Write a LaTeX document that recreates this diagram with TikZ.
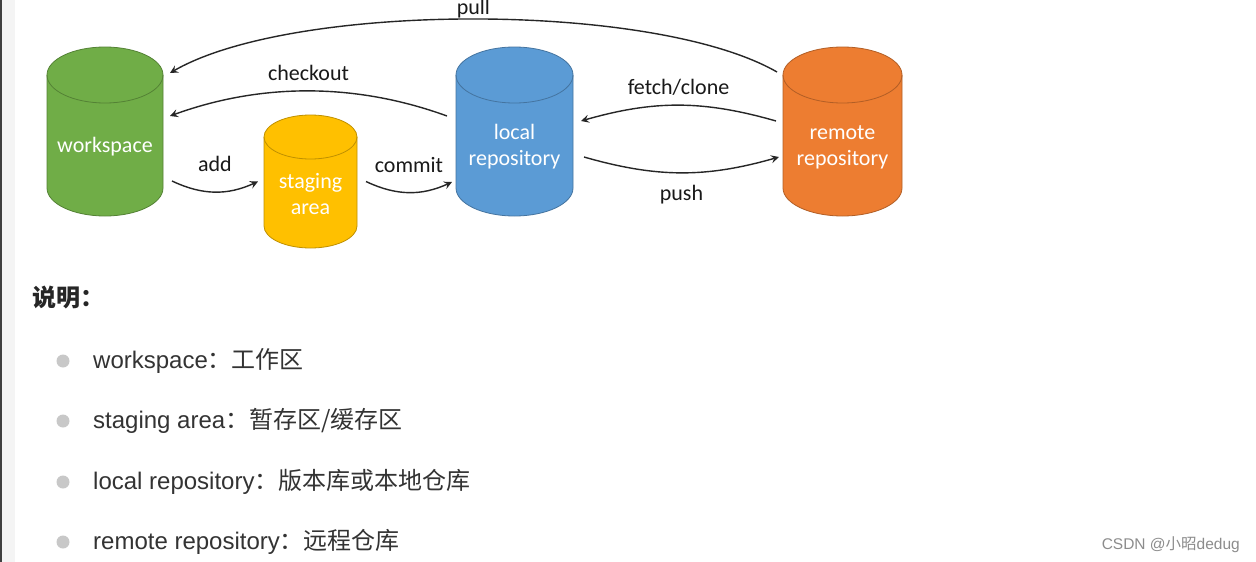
\documentclass[tikz,border=0pt]{standalone}
\usepackage{fontspec}
\setmainfont{Carlito}
\newfontfamily\arial{Liberation Sans}
\newfontfamily\cjk{Noto Sans CJK SC}
\usetikzlibrary{arrows.meta}
\pgfdeclarelayer{background}
\pgfsetlayers{background,main}
\definecolor{wsgreen}{HTML}{70AD47}
\definecolor{stgold}{HTML}{FFC000}
\definecolor{lrblue}{HTML}{5B9BD5}
\definecolor{rrorange}{HTML}{ED7D31}
\definecolor{dotgray}{HTML}{C8C8C8}
\definecolor{strip}{HTML}{F4F4F4}

\begin{document}
\begin{tikzpicture}[x=1pt, y=1pt,
  store/.style={rectangle, inner sep=0pt, outer sep=0pt, text=white, align=center, font=\fontsize{22}{26}\selectfont},
  flow/.style={->, >={Stealth[length=8pt, width=8pt, inset=3pt]}, line width=1.4pt, black!85},
  flowlabel/.style={font=\fontsize{22}{25}\selectfont, text=black!90},
  listitem/.style={anchor=base west, font=\fontsize{24}{28}\selectfont\arial, text=black!80},
  bullet/.style={circle, fill=dotgray, minimum size=13pt, inner sep=0pt}]
\useasboundingbox (0,0) rectangle (1256,-562);
\begin{pgfonlayer}{background}
\fill[white] (0,0) rectangle (1256,-562);
\fill[strip] (0,0) rectangle (15,-562);
\fill[black!75] (0,0) rectangle (2,-562);
\end{pgfonlayer}

% the four stores (node = body below the lid)
\node[store, minimum width=116pt, minimum height=85pt] (workspace) at (105,-147) {workspace};
\node[store, minimum width=93pt, minimum height=67pt] (staging) at (310.5,-194) {staging\\area};
\node[store, minimum width=117pt, minimum height=85pt] (local) at (514.5,-147) {local\\repository};
\node[store, minimum width=119pt, minimum height=85pt] (remote) at (842.5,-147) {remote\\repository};
\begin{pgfonlayer}{background}
\foreach \n/\rx/\ry/\col in {workspace/58/28/wsgreen, staging/46.5/22/stgold, local/58.5/28/lrblue, remote/59.5/28/rrorange}{
  \filldraw[fill=\col, draw=\col!75!black, line width=0.8pt]
    ([yshift=\ry+1.5]\n.north west) -- ([yshift=1.5]\n.south west)
    arc[start angle=180, end angle=360, x radius=\rx, y radius=\ry]
    -- ([yshift=\ry+1.5]\n.north east)
    arc[start angle=0, end angle=180, x radius=\rx, y radius=\ry] -- cycle;
  \draw[\col!75!black, line width=0.8pt] ([yshift=\ry+1.5]\n.north west)
    arc[start angle=180, end angle=360, x radius=\rx, y radius=\ry];
}
\end{pgfonlayer}

% arrows between them
\draw[flow] ([shift={(-65.5,75)}]remote.center) to[bend right=30, looseness=0.6] node[flowlabel, above=-3pt, midway] {pull} ([shift={(65,74)}]workspace.center);
\draw[flow] ([shift={(-67.5,31)}]local.center) to[bend right=20, looseness=0.9] node[flowlabel, above=6pt, midway] {checkout} ([shift={(65,31)}]workspace.center);
\draw[flow] ([shift={(67,-34)}]workspace.center) to[bend right=25] node[flowlabel, above=16pt, midway] {add} ([shift={(-52.5,12.5)}]staging.center);
\draw[flow] ([shift={(55.5,12.5)}]staging.center) to[bend right=25] node[flowlabel, above=16pt, midway] {commit} ([shift={(-62.5,-35)}]local.center);
\draw[flow] ([shift={(-66.5,26)}]remote.center) to[bend right=16] node[flowlabel, above=6pt, midway] {fetch/clone} ([shift={(66.5,26)}]local.center);
\draw[flow] ([shift={(69.5,-10)}]local.center) to[bend right=16] node[flowlabel, below=8pt, midway] {push} ([shift={(-63.5,-10)}]remote.center);

% notes below
\node[anchor=base west, inner sep=0pt, font=\fontsize{24}{28}\selectfont\cjk\bfseries, text=black!85] (notes) at (32,-306) {说明：};
\foreach \y/\name/\term/\zh in {368/ws/workspace/工作区, 428/sa/staging area/{暂存区/缓存区}, 489/lr/local repository/版本库或本地仓库, 549/rr/remote repository/远程仓库}{
  \node[bullet] (dot\name) at (63,-\y+7) {};
  \node[listitem, inner sep=0pt] (item\name) at (93,-\y) {\term{\cjk ：\zh}};
}
\node[anchor=base east, inner sep=0pt, font=\fontsize{15.5}{18}\selectfont\arial, text=black!45] (mark) at (1240,-549) {CSDN @{\cjk 小昭}dedug};
\end{tikzpicture}
\end{document}
